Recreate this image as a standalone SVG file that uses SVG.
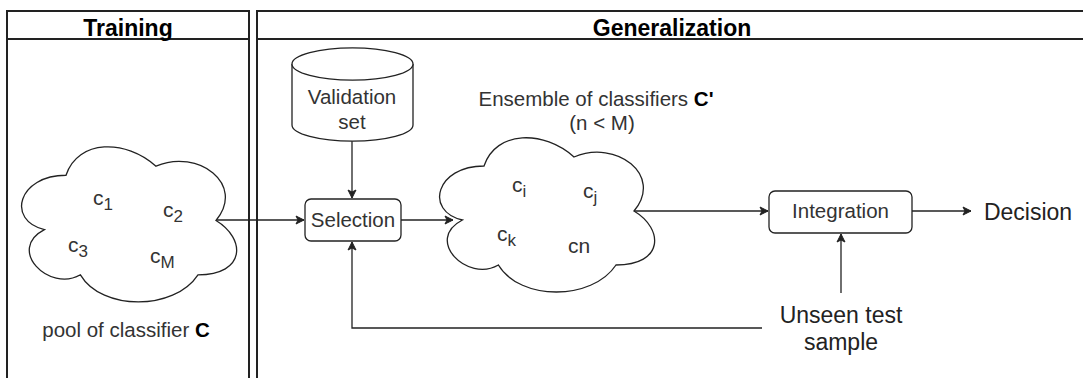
<svg xmlns="http://www.w3.org/2000/svg" width="1083" height="378" viewBox="0 0 1083 378">
<defs>
<style>
.lane{fill:none;stroke:#222;stroke-width:2}
.shape{fill:#fff;stroke:#222;stroke-width:1.3}
.edge{fill:none;stroke:#222;stroke-width:1.3}
.hdr{font-family:"Liberation Sans",Arial,sans-serif;font-size:23px;font-weight:bold;fill:#000;text-anchor:middle}
.lbl{font-family:"Liberation Sans",Arial,sans-serif;font-size:20.5px;fill:#333;text-anchor:middle}
.big{font-family:"Liberation Sans",Arial,sans-serif;font-size:23px;fill:#222;text-anchor:middle}
.ci{font-family:"Liberation Sans",Arial,sans-serif;font-size:21px;fill:#333}
.sub{font-size:17px}
</style>
<marker id="arr" markerWidth="10" markerHeight="10" refX="9" refY="5" orient="auto" markerUnits="userSpaceOnUse">
<path d="M1,1 L9,5 L1,9 L3,5 Z" fill="#222" stroke="#222" stroke-width="1"/>
</marker>
</defs>

<g id="lane-training">
<rect class="lane" x="7" y="11" width="242" height="400"/>
<line class="lane" x1="7" y1="39" x2="249" y2="39"/>
<text class="hdr" x="128" y="36">Training</text>
</g>
<g id="lane-generalization">
<rect class="lane" x="257" y="11" width="833" height="400"/>
<line class="lane" x1="257" y1="39" x2="1090" y2="39"/>
<text class="hdr" x="672" y="36">Generalization</text>
</g>

<g id="connectors">
<line class="edge" x1="216" y1="220" x2="304" y2="220" marker-end="url(#arr)"/>
<line class="edge" x1="352" y1="141" x2="352" y2="198" marker-end="url(#arr)"/>
<line class="edge" x1="401" y1="220" x2="453" y2="220" marker-end="url(#arr)"/>
<line class="edge" x1="634" y1="211" x2="768" y2="211" marker-end="url(#arr)"/>
<line class="edge" x1="912" y1="211" x2="971" y2="211" marker-end="url(#arr)"/>
<line class="edge" x1="841" y1="293" x2="841" y2="234" marker-end="url(#arr)"/>
<polyline class="edge" points="762,328 352,328 352,242" marker-end="url(#arr)"/>
</g>

<g id="pool-cloud">
<path class="shape" d="M66,175.25 C18,175.25 6,220.5 44.4,229.55 C6,249.46 49.2,292.9 80.4,274.8 C102,311 174,311 198,274.8 C246,274.8 246,238.6 216,220.5 C246,184.3 198,148.1 156,166.2 C126,139.05 78,139.05 66,175.25 Z"/>
<text class="ci" x="93" y="205">c<tspan class="sub" dy="5">1</tspan></text>
<text class="ci" x="163" y="217">c<tspan class="sub" dy="5">2</tspan></text>
<text class="ci" x="68" y="252">c<tspan class="sub" dy="5">3</tspan></text>
<text class="ci" x="150" y="263">c<tspan class="sub" dy="5">M</tspan></text>
<text class="lbl" x="126" y="337">pool of classifier <tspan font-weight="bold" fill="#000">C</tspan></text>
</g>

<g id="validation-set">
<path class="shape" d="M292,64 A60,16 0 0 1 413,64 L413,125 A60,16 0 0 1 292,125 Z"/>
<path class="shape" fill="none" d="M292,64 A60,16 0 0 0 413,64"/>
<text class="lbl" x="352" y="104">Validation</text>
<text class="lbl" x="352" y="129">set</text>
</g>

<g id="selection">
<rect class="shape" x="305" y="199" width="96" height="42" rx="6"/>
<text class="lbl" x="353" y="227">Selection</text>
</g>

<g id="ensemble-cloud">
<text class="lbl" x="596" y="106">Ensemble of classifiers <tspan font-weight="bold" fill="#000">C'</tspan></text>
<text class="lbl" x="602" y="130">(n &lt; M)</text>
<path class="shape" d="M484,166 C436,166 424,211 462.4,220 C424,239.8 467.2,283 498.4,265 C520,301 592,301 616,265 C664,265 664,229 634,211 C664,175 616,139 574,157 C544,130 496,130 484,166 Z"/>
<text class="ci" x="512" y="192">c<tspan class="sub" dy="5">i</tspan></text>
<text class="ci" x="583" y="198">c<tspan class="sub" dy="5">j</tspan></text>
<text class="ci" x="497" y="241">c<tspan class="sub" dy="5">k</tspan></text>
<text class="ci" x="568" y="253">cn</text>
</g>

<g id="integration">
<rect class="shape" x="769" y="191" width="143" height="42" rx="6"/>
<text class="lbl" x="840.5" y="218">Integration</text>
</g>

<g id="decision">
<text class="big" x="1028" y="220">Decision</text>
</g>

<g id="unseen-test-sample">
<text class="big" x="841" y="323">Unseen test</text>
<text class="big" x="841" y="350">sample</text>
</g>
</svg>
